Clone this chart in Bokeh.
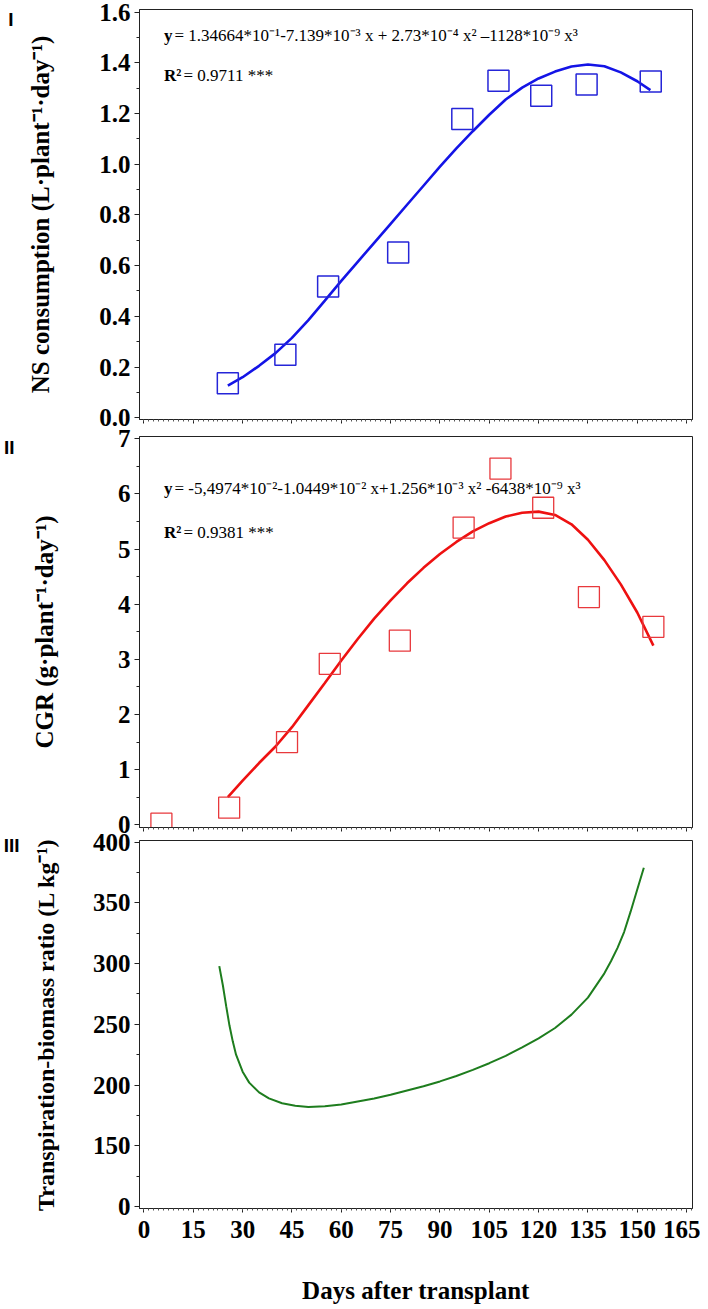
import math
from bokeh.plotting import figure
from bokeh.layouts import column
from bokeh.models import (Label, SingleIntervalTicker, FixedTicker, Range1d,
                          LinearAxis, PrintfTickFormatter)
from bokeh.embed import file_html
from bokeh.resources import INLINE

# ---------------- data ----------------
x_ticks = [0, 15, 30, 45, 60, 75, 90, 105, 120, 135, 150, 165]

# Panel I: NS consumption (observed)
ns_days = [25.5, 43, 56, 77.3, 96.8, 107.8, 120.8, 134.6, 154.1]
ns_values = [0.136, 0.249, 0.518, 0.652, 1.178, 1.329, 1.270, 1.314, 1.326]
# Panel I: fitted curve
ns_fit_days = [25.5, 30, 35, 40, 45, 50, 55, 60, 65, 70, 75, 80, 85, 90, 95, 100,
               105, 110, 115, 120, 125, 130, 135, 140, 145, 150, 154]
ns_fit_values = [0.127, 0.160, 0.205, 0.255, 0.315, 0.385, 0.462, 0.540, 0.615, 0.690,
                 0.765, 0.840, 0.915, 0.990, 1.062, 1.130, 1.195, 1.255, 1.302, 1.338,
                 1.365, 1.385, 1.393, 1.386, 1.362, 1.327, 1.292]

# Panel II: CGR (observed)
cgr_days = [5.3, 25.9, 43.5, 56.5, 77.8, 97.2, 108.4, 121.4, 135.3, 154.9]
cgr_values = [0.02, 0.31, 1.50, 2.92, 3.34, 5.39, 6.46, 5.75, 4.13, 3.59]
# Panel II: fitted curve
cgr_fit_days = [25.5, 30, 35, 40, 45, 50, 55, 60, 65, 70, 75, 80, 85, 90, 95, 100,
                105, 110, 115, 120, 125, 130, 135, 140, 145, 150, 154.9]
cgr_fit_values = [0.50, 0.80, 1.12, 1.42, 1.77, 2.17, 2.57, 2.98, 3.37, 3.74, 4.07,
                  4.38, 4.66, 4.91, 5.13, 5.32, 5.47, 5.59, 5.66, 5.68, 5.62, 5.45,
                  5.17, 4.80, 4.36, 3.85, 3.25]

# Panel III: transpiration-biomass ratio curve
tbr_days = [22.9, 24, 25, 26, 27, 28, 30, 32, 35, 38, 42, 46, 50, 55, 60, 65, 70, 75,
            80, 85, 90, 95, 100, 105, 110, 115, 120, 125, 130, 135, 140, 142, 144,
            146, 148, 150, 152]
tbr_values = [298, 282, 265, 249, 236, 225, 211, 202, 194, 189, 185, 183, 182, 182.5,
              184, 186.5, 189, 192, 195.5, 199, 203, 207.5, 212.5, 218, 224, 231,
              238.5, 247, 258, 272, 292, 302, 313, 326, 343, 361, 379]

eq1_text = " = 1.34664*10\u207b\u00b9-7.139*10\u207b\u00b3 x + 2.73*10\u207b\u2074 x\u00b2 \u20131128*10\u207b\u2079 x\u00b3"
r1_text = " = 0.9711 ***"
eq2_text = " = -5,4974*10\u207b\u00b2-1.0449*10\u207b\u00b2 x+1.256*10\u207b\u00b3 x\u00b2 -6438*10\u207b\u2079 x\u00b3"
r2_text = " = 0.9381 ***"

title1 = "NS consumption (L\u00b7plant\u207b\u00b9\u00b7day\u207b\u00b9)"
title2 = "CGR (g\u00b7plant\u207b\u00b9\u00b7day\u207b\u00b9)"
title3 = "Transpiration-biomass ratio (L kg\u207b\u00b9)"
xtitle = "Days after transplant"
panel_names = ["I", "II", "III"]

SERIF = "Liberation Serif"
SANS = "Liberation Sans"
TICK_SIZE = "25px"
TITLE_SIZE = "25px"
EQ_SIZE = "17px"


def make_fig(height, b_top, b_bottom, y0, y1, y_int, title, title_size, title_standoff,
             pname, pname_pos, pname_standoff):
    p = figure(width=700, height=height,
               x_range=Range1d(-1.36, 166.8), y_range=Range1d(y0, y1),
               output_backend="svg", toolbar_location=None,
               min_border_left=136, min_border_right=8,
               min_border_top=b_top, min_border_bottom=b_bottom)
    p.background_fill_color = "white"
    p.border_fill_color = "white"
    p.outline_line_color = "#222222"
    p.outline_line_width = 1
    p.outline_line_alpha = 1
    p.xgrid.visible = False
    p.ygrid.visible = False

    yax = p.yaxis[0]
    yax.ticker = SingleIntervalTicker(interval=y_int, num_minor_ticks=2)
    yax.major_tick_out = 5
    yax.major_tick_in = 0
    yax.minor_tick_out = 3
    yax.minor_tick_in = 0
    yax.major_label_standoff = 4
    yax.major_label_text_font = SERIF
    yax.major_label_text_font_style = "bold"
    yax.major_label_text_font_size = TICK_SIZE
    yax.major_label_text_color = "black"
    yax.axis_line_color = "#222222"
    yax.major_tick_line_color = "#222222"
    yax.minor_tick_line_color = "#222222"
    yax.axis_label = title
    yax.axis_label_text_font = SERIF
    yax.axis_label_text_font_style = "bold"
    yax.axis_label_text_font_size = title_size
    yax.axis_label_text_color = "black"
    yax.axis_label_standoff = title_standoff

    # outer axis used only to show the panel name (I, II, III)
    pax = LinearAxis(ticker=FixedTicker(ticks=[pname_pos]),
                     major_label_overrides={pname_pos: pname})
    pax.axis_line_color = None
    pax.major_tick_line_color = None
    pax.minor_tick_line_color = None
    pax.major_tick_out = 0
    pax.major_tick_in = 0
    pax.major_label_standoff = pname_standoff
    pax.major_label_text_font = SANS
    pax.major_label_text_font_style = "bold"
    pax.major_label_text_font_size = "19px"
    pax.major_label_text_color = "black"
    p.add_layout(pax, "left")

    xax = p.xaxis[0]
    xax.ticker = SingleIntervalTicker(interval=15, num_minor_ticks=10)
    xax.major_tick_out = 4
    xax.major_tick_in = 0
    xax.minor_tick_out = 2
    xax.minor_tick_in = 0
    xax.axis_line_color = "#222222"
    xax.major_tick_line_color = "#222222"
    xax.minor_tick_line_color = "#555555"
    return p


def hide_x_labels(p):
    xax = p.xaxis[0]
    xax.major_label_overrides = {t: "" for t in x_ticks}
    xax.major_label_text_font_size = "1px"
    xax.major_label_standoff = 0


def add_text(p, x, y, text, size, style="normal"):
    p.add_layout(Label(x=x, y=y, x_units="screen", y_units="screen", text=text,
                       text_font=SERIF, text_font_size=size, text_font_style=style,
                       text_align="left", text_baseline="middle", text_color="black"))


# ---------------- Panel I ----------------
p1 = make_fig(428, 9, 9, -0.0067, 1.6099, 0.2, title1, TITLE_SIZE, 42,
              panel_names[0], 1.57, 11)
p1.yaxis[0].formatter = PrintfTickFormatter(format="%.1f")
hide_x_labels(p1)
p1.line(ns_fit_days, ns_fit_values, line_color="#1414e6", line_width=2.6)
p1.scatter(ns_days, ns_values, marker="square", size=21, fill_color=None,
           line_color="#2525d8", line_width=1.5)
add_text(p1, 24.5, 384, "y", EQ_SIZE, "bold")
add_text(p1, 35, 384, eq1_text, EQ_SIZE)
add_text(p1, 24.5, 344, "R\u00b2", EQ_SIZE, "bold")
add_text(p1, 44, 344, r1_text, EQ_SIZE)

# ---------------- Panel II ----------------
p2 = make_fig(405, 8, 6, -0.049, 7.042, 1, title2, TITLE_SIZE, 57,
              panel_names[1], 6.84, 13)
hide_x_labels(p2)
p2.line(cgr_fit_days, cgr_fit_values, line_color="#ee1111", line_width=2.6)
p2.scatter(cgr_days, cgr_values, marker="square", size=21, fill_color=None,
           line_color="#e8383c", line_width=1.3)
add_text(p2, 24.5, 339, "y", EQ_SIZE, "bold")
add_text(p2, 35, 339, eq2_text, EQ_SIZE)
add_text(p2, 24.5, 295, "R\u00b2", EQ_SIZE, "bold")
add_text(p2, 44, 295, r2_text, EQ_SIZE)

# ---------------- Panel III ----------------
p3 = make_fig(476, 7, 101, 98.35, 401.4, 50, title3, "24px", 31,
              panel_names[2], 400, 10)
p3.yaxis[0].major_label_overrides = {100: "0"}
xax3 = p3.xaxis[0]
xax3.major_label_overrides = {t: str(t) for t in x_ticks}
xax3.major_label_standoff = 8
xax3.major_label_text_font = SERIF
xax3.major_label_text_font_style = "bold"
xax3.major_label_text_font_size = TICK_SIZE
xax3.major_label_text_color = "black"
xax3.axis_label = xtitle
xax3.axis_label_text_font = SERIF
xax3.axis_label_text_font_style = "bold"
xax3.axis_label_text_font_size = TITLE_SIZE
xax3.axis_label_text_color = "black"
xax3.axis_label_standoff = 36
p3.line(tbr_days, tbr_values, line_color="#1e7d1e", line_width=2.0)

layout = column(p1, p2, p3, spacing=0)
open("out.html", "w").write(file_html(layout, INLINE))
